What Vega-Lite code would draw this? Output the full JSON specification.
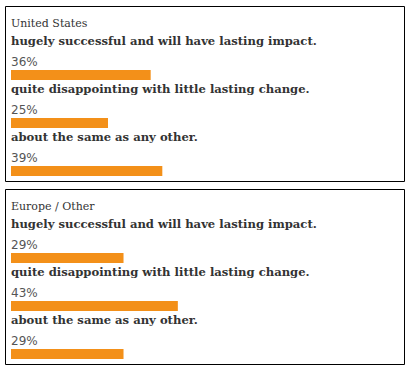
{
  "$schema": "https://vega.github.io/schema/vega-lite/v6.json",
  "padding": {"left": 4, "top": 5, "right": 0, "bottom": 0},
  "autosize": {"type": "pad"},
  "background": "white",
  "config": {"view": {"stroke": "#000000", "strokeWidth": 1}, "concat": {"spacing": 6}},
  "data": {"values": [
    {"region": "United States", "answer": "hugely successful and will have lasting impact.", "pct": 0.36},
    {"region": "United States", "answer": "quite disappointing with little lasting change.", "pct": 0.25},
    {"region": "United States", "answer": "about the same as any other.", "pct": 0.39},
    {"region": "Europe / Other", "answer": "hugely successful and will have lasting impact.", "pct": 0.29},
    {"region": "Europe / Other", "answer": "quite disappointing with little lasting change.", "pct": 0.43},
    {"region": "Europe / Other", "answer": "about the same as any other.", "pct": 0.29}
  ]},
  "vconcat": [
    {
      "width": 399, "height": 175,
      "transform": [{"filter": "datum.region === 'United States'"}],
      "encoding": {
        "y": {"field": "answer", "type": "nominal", "axis": null,
          "scale": {"type": "point", "padding": 0, "domain": ["United States", "hugely successful and will have lasting impact.", "quite disappointing with little lasting change.", "about the same as any other."], "range": [21, 165]}}
      },
      "layer": [
        {"mark": {"type": "bar", "height": 10, "color": "#F39019"},
         "encoding": {"x": {"field": "pct", "type": "quantitative", "axis": null, "scale": {"domain": [0, 1], "range": [6, 394]}}}},
        {"mark": {"type": "text", "align": "left", "baseline": "alphabetic", "dy": -30, "font": "DejaVu Serif", "fontWeight": "bold", "fontSize": 11.6, "color": "#333333"},
         "encoding": {"x": {"datum": 0, "type": "quantitative"}, "text": {"field": "answer"}}},
        {"mark": {"type": "text", "align": "left", "baseline": "alphabetic", "dy": -9, "font": "DejaVu Sans", "fontSize": 12, "color": "#555555"},
         "encoding": {"x": {"datum": 0, "type": "quantitative"}, "text": {"field": "pct", "format": ".0%"}}},
        {"transform": [{"aggregate": [], "groupby": ["region"]}],
         "mark": {"type": "text", "align": "left", "baseline": "alphabetic", "font": "DejaVu Serif", "fontSize": 11, "color": "#333333"},
         "encoding": {"x": {"datum": 0, "type": "quantitative"}, "y": {"field": "region", "type": "nominal"}, "text": {"field": "region"}}}
      ]
    },
    {
      "width": 399, "height": 175,
      "transform": [{"filter": "datum.region === 'Europe / Other'"}],
      "encoding": {
        "y": {"field": "answer", "type": "nominal", "axis": null,
          "scale": {"type": "point", "padding": 0, "domain": ["Europe / Other", "hugely successful and will have lasting impact.", "quite disappointing with little lasting change.", "about the same as any other."], "range": [21, 165]}}
      },
      "layer": [
        {"mark": {"type": "bar", "height": 10, "color": "#F39019"},
         "encoding": {"x": {"field": "pct", "type": "quantitative", "axis": null, "scale": {"domain": [0, 1], "range": [6, 394]}}}},
        {"mark": {"type": "text", "align": "left", "baseline": "alphabetic", "dy": -30, "font": "DejaVu Serif", "fontWeight": "bold", "fontSize": 11.6, "color": "#333333"},
         "encoding": {"x": {"datum": 0, "type": "quantitative"}, "text": {"field": "answer"}}},
        {"mark": {"type": "text", "align": "left", "baseline": "alphabetic", "dy": -9, "font": "DejaVu Sans", "fontSize": 12, "color": "#555555"},
         "encoding": {"x": {"datum": 0, "type": "quantitative"}, "text": {"field": "pct", "format": ".0%"}}},
        {"transform": [{"aggregate": [], "groupby": ["region"]}],
         "mark": {"type": "text", "align": "left", "baseline": "alphabetic", "font": "DejaVu Serif", "fontSize": 11, "color": "#333333"},
         "encoding": {"x": {"datum": 0, "type": "quantitative"}, "y": {"field": "region", "type": "nominal"}, "text": {"field": "region"}}}
      ]
    }
  ]
}
